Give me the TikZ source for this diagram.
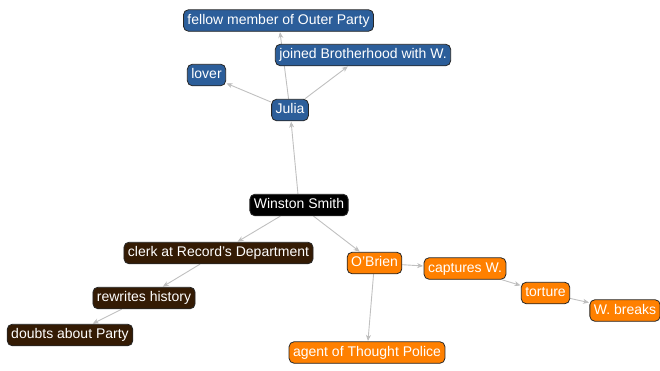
\documentclass[tikz,border=0pt]{standalone}
\usepackage{fontspec}
\setmainfont{Liberation Sans}
\usetikzlibrary{arrows.meta,backgrounds}
\definecolor{partyblue}{RGB}{44,94,154}
\definecolor{partybrown}{RGB}{52,27,4}
\definecolor{partyorange}{RGB}{255,128,0}
\definecolor{linkgray}{RGB}{192,192,192}
\tikzset{
  >={Stealth[length=6pt,width=5pt]},
  person/.style={draw=black!85,line width=0.8pt,rounded corners=5pt,
    text=white,font=\fontsize{14}{16}\selectfont,inner xsep=4pt,
    inner ysep=0pt,minimum height=21.5pt,text height=10.5pt,text depth=3pt},
  julianode/.style={person,fill=partyblue},
  winnode/.style={person,fill=partybrown},
  obrnode/.style={person,fill=partyorange},
  hubnode/.style={person,fill=black},
  link/.style={->,draw=linkgray,line width=0.9pt,shorten >=0.5pt},
}
\begin{document}
\begin{tikzpicture}[x=1pt,y=-1pt]
  \useasboundingbox (0,0) rectangle (660,370);
  \node[hubnode] (ws) at (299,205) {Winston Smith};
  % Julia branch
  \node[julianode] (julia) at (290,110) {Julia};
  \node[julianode] (lover) at (206.5,75) {lover};
  \node[julianode] (joined) at (363,55) {joined Brotherhood with W.};
  \node[julianode] (fellow) at (278.5,20.5) {fellow member of Outer Party};
  % Winston's own chain
  \node[winnode] (clerk) at (218.5,253) {clerk at Record's Department};
  \node[winnode] (rewrite) at (144,298) {rewrites history};
  \node[winnode] (doubts) at (70,335) {doubts about Party};
  % O'Brien branch
  \node[obrnode] (obrien) at (374.5,263) {O'Brien};
  \node[obrnode] (capture) at (465,268.5) {captures W.};
  \node[obrnode] (torture) at (545.5,293) {torture};
  \node[obrnode] (breaks) at (625,310.5) {W. breaks};
  \node[obrnode] (agent) at (367,352.5) {agent of Thought Police};
  % links go under the boxes
  \begin{scope}[on background layer]
    \path[link] (ws) edge (julia)
                (julia) edge (lover)
                (julia) edge (joined)
                (julia) edge (fellow)
                (ws) edge (clerk)
                (clerk) edge (rewrite)
                (rewrite) edge (doubts)
                (ws) edge (obrien)
                (obrien) edge (capture)
                (capture) edge (torture)
                (torture) edge (breaks)
                (obrien) edge (agent);
  \end{scope}
\end{tikzpicture}
\end{document}
